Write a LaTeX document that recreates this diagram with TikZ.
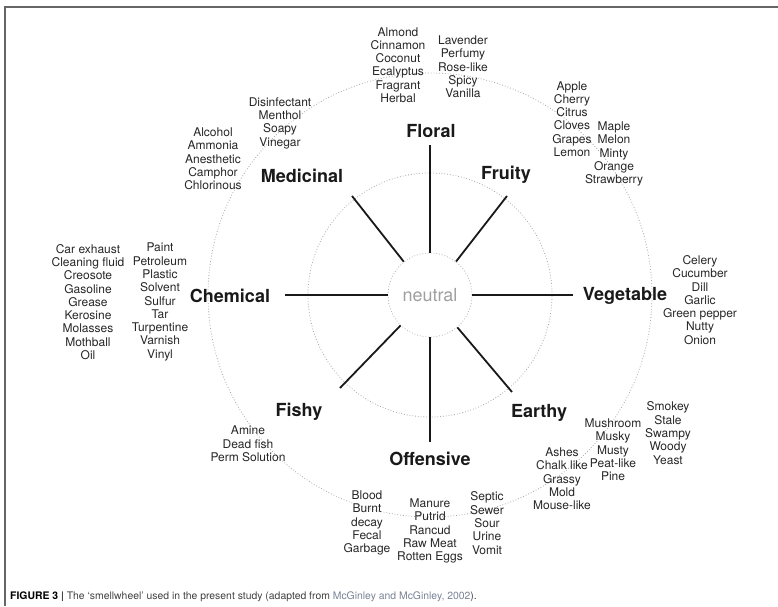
\documentclass[tikz,border=0pt]{standalone}
\usepackage{fontspec}
\setmainfont{TeX Gyre Heros}
\definecolor{linkc}{RGB}{120,130,150}
\begin{document}
\begin{tikzpicture}[x=1pt,y=-1pt,
  lbl/.style={font=\fontsize{18}{20}\selectfont\bfseries, inner sep=1pt, text=black!90},
  lst/.style={font=\fontsize{12}{13.3}\selectfont, align=center, inner sep=0pt, text=black!85},
  spoke/.style={line width=1.8pt, black!90},
  dotc/.style={gray!70, line width=0.8pt, dotted}]
\useasboundingbox (0,0) rectangle (778,606);
\draw[gray!80!black, line width=1.5pt] (778,7) -- (5,7) -- (5,606);
% wheel
\node[circle, draw=gray!60, dotted, line width=0.8pt, minimum size=84pt, inner sep=0pt,
      font=\fontsize{18}{20}\selectfont, text=gray!75] (n) at (430,295) {neutral};
\draw[dotc] (n.center) circle (122pt);
\draw[dotc] (n.center) circle (222pt);
% spoke ends
\coordinate (eN) at (430,145);
\coordinate (eS) at (430,442);
\coordinate (eW) at (285,295);
\coordinate (eE) at (573,295);
\coordinate (eNE) at (507,196);
\coordinate (eNW) at (352,196);
\coordinate (eSW) at (340,388);
\coordinate (eSE) at (512,392);
\foreach \e in {eN,eS,eW,eE,eNE,eNW,eSW,eSE} \draw[spoke] (n) -- (\e);
% category labels
\node[lbl] (floral) at (431,131) {Floral};
\node[lbl] (medicinal) at (302,176) {Medicinal};
\node[lbl] (fruity) at (506,175) {Fruity};
\node[lbl] (chemical) at (230,296) {Chemical};
\node[lbl] (vegetable) at (625,296) {Vegetable};
\node[lbl] (fishy) at (299,412) {Fishy};
\node[lbl] (earthy) at (539,413) {Earthy};
\node[lbl] (offensive) at (430,459) {Offensive};
% descriptor lists
\node[lst] (fl1) at (398,65) {Almond\\Cinnamon\\Coconut\\Ecalyptus\\Fragrant\\Herbal};
\node[lst] (fl2) at (463,67) {Lavender\\Perfumy\\Rose-like\\Spicy\\Vanilla};
\node[lst] (fr1) at (572,119) {Apple\\Cherry\\Citrus\\Cloves\\Grapes\\Lemon};
\node[lst] (fr2) at (614,154) {Maple\\Melon\\Minty\\Orange\\Strawberry};
\node[lst] (me1) at (280,123) {Disinfectant\\Menthol\\Soapy\\Vinegar};
\node[lst] (me2) at (213,159) {Alcohol\\Ammonia\\Anesthetic\\Camphor\\Chlorinous};
\node[lst] (ch1) at (88,302) {Car exhaust\\Cleaning fluid\\Creosote\\Gasoline\\Grease\\Kerosine\\Molasses\\Mothball\\Oil};
\node[lst] (ch2) at (160,302) {Paint\\Petroleum\\Plastic\\Solvent\\Sulfur\\Tar\\Turpentine\\Varnish\\Vinyl};
\node[lst] (ve) at (700,300) {Celery\\Cucumber\\Dill\\Garlic\\Green pepper\\Nutty\\Onion};
\node[lst] (fi) at (248,444) {Amine\\Dead fish\\Perm Solution};
\node[lst] (ea1) at (562,479) {Ashes\\Chalk like\\Grassy\\Mold\\Mouse-like};
\node[lst] (ea2) at (613,450) {Mushroom\\Musky\\Musty\\Peat-like\\Pine};
\node[lst] (ea3) at (668,433) {Smokey\\Stale\\Swampy\\Woody\\Yeast};
\node[lst] (of1) at (367,523) {Blood\\Burnt\\decay\\Fecal\\Garbage};
\node[lst] (of2) at (430,531) {Manure\\Putrid\\Rancud\\Raw Meat\\Rotten Eggs};
\node[lst] (of3) at (487,523) {Septic\\Sewer\\Sour\\Urine\\Vomit};
% caption
\node[anchor=west, inner sep=0pt, font=\fontsize{10.4}{12}\selectfont, text=black!75] (cap) at (10,597)
  {\textcolor{black}{\textbf{FIGURE 3}} {\bfseries|} The ‘smellwheel’ used in the present study (adapted from \textcolor{linkc}{McGinley and McGinley, 2002}).};
\end{tikzpicture}
\end{document}
